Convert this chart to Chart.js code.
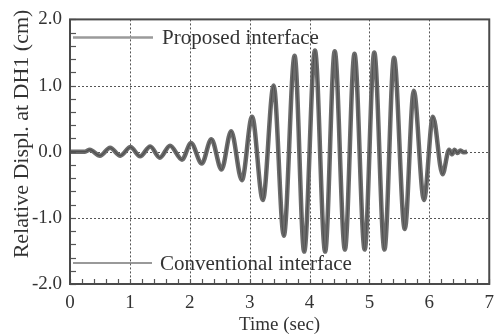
<!DOCTYPE html>
<html><head><meta charset="utf-8">
<script src="https://cdn.jsdelivr.net/npm/chart.js@4/dist/chart.umd.min.js"></script>
<style>html,body{margin:0;padding:0;background:#fff;}canvas{display:block;}</style>
</head><body>
<canvas id="c" width="502" height="336"></canvas>
<script>
// Time (sec) of each read point (extremes of the oscillation)
const timeSec = [0.00,0.25,0.33,0.50,0.67,0.84,1.01,1.17,1.34,1.50,1.67,1.87,2.02,2.20,2.36,2.53,2.69,2.87,3.04,3.22,3.40,3.57,3.75,3.91,4.09,4.26,4.42,4.59,4.75,4.92,5.08,5.25,5.41,5.59,5.74,5.91,6.06,6.22,6.33,6.38,6.42,6.47,6.52,6.57,6.63];
const proposedDispl = [0.00,0.00,0.03,-0.06,0.06,-0.06,0.07,-0.07,0.08,-0.09,0.09,-0.12,0.13,-0.18,0.19,-0.27,0.31,-0.43,0.53,-0.73,1.00,-1.27,1.45,-1.51,1.53,-1.51,1.52,-1.48,1.48,-1.48,1.50,-1.48,1.42,-1.17,0.92,-0.73,0.53,-0.34,0.03,-0.04,0.03,-0.02,0.02,-0.01,0.00];
const conventionalDispl = [0.00,0.00,0.03,-0.06,0.06,-0.06,0.07,-0.07,0.08,-0.09,0.09,-0.12,0.13,-0.18,0.19,-0.27,0.31,-0.43,0.53,-0.73,1.00,-1.27,1.45,-1.51,1.53,-1.51,1.52,-1.48,1.48,-1.48,1.50,-1.48,1.42,-1.17,0.92,-0.73,0.53,-0.34,0.03,-0.04,0.03,-0.02,0.02,-0.01,0.00];
const seriesLabels = ['Proposed interface','Conventional interface'];
const xTickValues = [0,1,2,3,4,5,6,7];
const yTickValues = [-2,-1,0,1,2];
const xTitle = 'Time (sec)';
const yTitle = 'Relative Displ. at DH1 (cm)';

const FONT = "'Liberation Serif', 'DejaVu Serif', serif";

const decor = {
  id: 'decor',
  beforeDatasetsDraw(chart) {
    const ctx = chart.ctx, a = chart.chartArea;
    const xs = chart.scales.x, ys = chart.scales.y;
    ctx.save();
    ctx.strokeStyle = '#555'; ctx.lineWidth = 1; ctx.setLineDash([2, 2]);
    xTickValues.forEach(v => {
      const px = Math.round(xs.getPixelForValue(v)) + 0.5;
      if (px <= a.left + 2 || px >= a.right - 2) return;
      ctx.beginPath(); ctx.moveTo(px, a.top); ctx.lineTo(px, a.bottom); ctx.stroke();
    });
    yTickValues.forEach(v => {
      const py = Math.round(ys.getPixelForValue(v)) + 0.5;
      if (py <= a.top + 2 || py >= a.bottom - 2) return;
      ctx.beginPath(); ctx.moveTo(a.left, py); ctx.lineTo(a.right, py); ctx.stroke();
    });
    ctx.restore();
  },
  afterDatasetsDraw(chart) {
    const ctx = chart.ctx, a = chart.chartArea;
    const xs = chart.scales.x, ys = chart.scales.y;
    ctx.save();
    // minor ticks
    ctx.strokeStyle = '#555'; ctx.lineWidth = 1.2;
    for (let i = 0; i <= 35; i++) {
      const px = Math.round(xs.getPixelForValue(i * 0.2)) + 0.5;
      ctx.beginPath(); ctx.moveTo(px, a.bottom); ctx.lineTo(px, a.bottom - 5); ctx.stroke();
    }
    for (let i = 0; i <= 20; i++) {
      const py = Math.round(ys.getPixelForValue(-2 + i * 0.2)) + 0.5;
      ctx.beginPath(); ctx.moveTo(a.left, py); ctx.lineTo(a.left + 6, py); ctx.stroke();
    }
    // frame
    ctx.strokeStyle = '#4a4a4a'; ctx.lineWidth = 2;
    ctx.strokeRect(a.left, a.top, a.right - a.left, a.bottom - a.top);
    // legend entries inside plot
    ctx.font = "21px " + FONT;
    ctx.fillStyle = '#333';
    ctx.textBaseline = 'alphabetic';
    ctx.strokeStyle = '#9a9a9a'; ctx.lineWidth = 2.5;
    ctx.beginPath(); ctx.moveTo(a.left + 3, a.top + 18); ctx.lineTo(a.left + 83, a.top + 18); ctx.stroke();
    ctx.fillText(seriesLabels[0], a.left + 92, a.top + 25);
    ctx.strokeStyle = '#777'; ctx.lineWidth = 1.5;
    ctx.beginPath(); ctx.moveTo(a.left + 3, a.bottom - 21); ctx.lineTo(a.left + 82, a.bottom - 21); ctx.stroke();
    ctx.fillText(seriesLabels[1], a.left + 90, a.bottom - 14);
    // y-axis title
    ctx.font = "22px " + FONT;
    ctx.translate(28, 134);
    ctx.rotate(-Math.PI / 2);
    ctx.textAlign = 'center';
    ctx.fillText(yTitle, 0, 0);
    ctx.restore();
  }
};

new Chart(document.getElementById('c'), {
  type: 'line',
  data: {
    datasets: [
      { label: seriesLabels[0], data: timeSec.map((t, i) => ({x: t, y: proposedDispl[i]})),
        borderColor: '#6c6c6c', borderWidth: 4.5, pointRadius: 0, cubicInterpolationMode: 'monotone', order: 2 },
      { label: seriesLabels[1], data: timeSec.map((t, i) => ({x: t, y: conventionalDispl[i]})),
        borderColor: '#505050', borderWidth: 1.2, pointRadius: 0, cubicInterpolationMode: 'monotone', order: 1 }
    ]
  },
  options: {
    responsive: false, animation: false,
    layout: { padding: { top: 14, right: 7, left: 0, bottom: 0 } },
    plugins: { legend: { display: false }, tooltip: { enabled: false } },
    scales: {
      x: {
        type: 'linear', min: 0, max: 7,
        afterBuildTicks: s => { s.ticks = xTickValues.map(v => ({value: v})); },
        afterFit: s => { s.height = 52; },
        ticks: { color: '#333', font: { family: FONT, size: 19 }, padding: 8, maxRotation: 0,
                 callback: v => String(v) },
        grid: { display: false, drawTicks: false },
        border: { display: false },
        title: { display: true, text: xTitle, color: '#333', font: { family: FONT, size: 19 }, padding: { top: -6, bottom: 0 } }
      },
      y: {
        type: 'linear', min: -2, max: 2,
        afterBuildTicks: s => { s.ticks = yTickValues.map(v => ({value: v})); },
        afterFit: s => { s.width = 70; },
        ticks: { color: '#333', font: { family: FONT, size: 19 }, padding: 8,
                 callback: v => v.toFixed(1) },
        grid: { display: false, drawTicks: false },
        border: { display: false },
        title: { display: false }
      }
    }
  },
  plugins: [decor]
});
</script>
</body></html>
